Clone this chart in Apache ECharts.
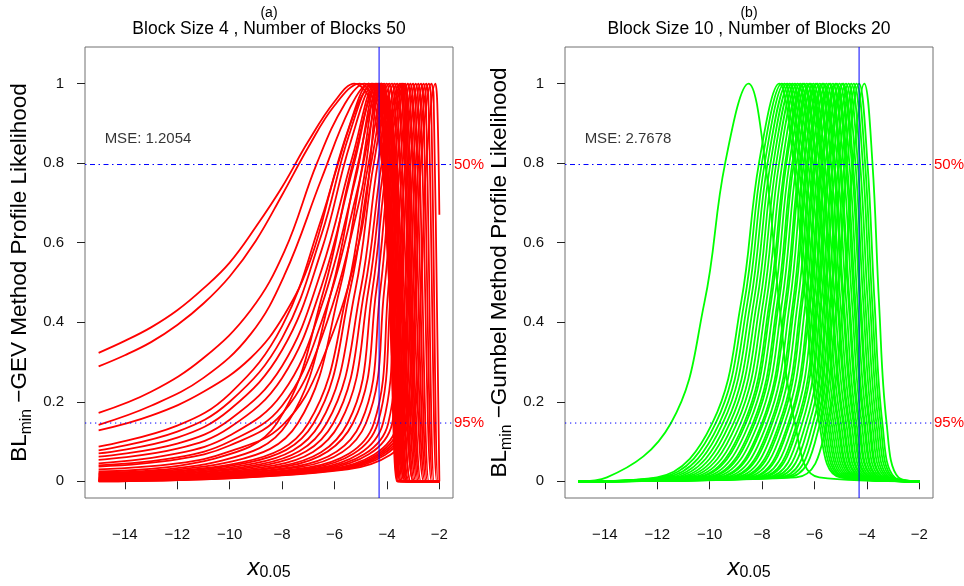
<!DOCTYPE html>
<html>
<head>
<meta charset="utf-8">
<script src="https://cdn.jsdelivr.net/npm/echarts@6/dist/echarts.min.js"></script>
<style>
html,body{margin:0;padding:0;background:#fff;}
#chart{width:964px;height:586px;}
</style>
</head>
<body>
<div id="chart"></div>
<script>
// ---------- data ----------
const xTicks = [-14, -12, -10, -8, -6, -4, -2];
const yTicks = [0, 0.2, 0.4, 0.6, 0.8, 1];
const xLimits = [-15.52, -1.48];
const yLimits = [-0.042, 1.092];
const level50 = 0.7965;
const level95 = 0.1465;
const trueQuantile = -4.3;
const panelTags = ['(a)', '(b)'];
const panelTitles = ['Block Size 4 , Number of Blocks 50', 'Block Size 10 , Number of Blocks 20'];
const mseLabels = ['MSE: 1.2054', 'MSE: 2.7678'];
const yNameMethods = ['GEV', 'Gumbel'];
const mseAnchor = [-15, 0.861];

// panel (a): GEV profile likelihood curves, [x, y] points
const gevCurves = [
  [[-15,.323],[-14,.353],[-13,.387],[-12,.43],[-11,.485],[-10,.55],[-9,.64],[-8,.74],[-7,.855],[-6,.955],[-5.25,1],[-4.5,.93],[-4.0,.6],[-3.62,0],[-3.6,0],[-2,0]],
  [[-15,.289],[-14,.317],[-13,.35],[-12,.393],[-11,.447],[-10,.515],[-9,.605],[-8,.72],[-7,.84],[-6,.945],[-5.05,1],[-4.4,.93],[-3.95,.55],[-3.6,0],[-3.58,0],[-2,0]],
  [[-15,.172],[-13,.225],[-11,.31],[-9.2,.43],[-7.9,.58],[-6.67,.8],[-5.6,.95],[-4.85,1],[-4.3,.92],[-3.85,.45],[-3.58,0],[-3.56,0],[-2,0]],
  [[-15,.142],[-13,.19],[-11,.26],[-9.2,.37],[-7.9,.52],[-6.5,.76],[-5.4,.94],[-4.7,1],[-4.2,.9],[-3.8,.42],[-3.55,0],[-3.53,0],[-2,0]],
  [[-15,.128],[-13,.165],[-11,.225],[-9.2,.31],[-7.9,.42],[-6.9,.56],[-5.95,.78],[-5.1,.95],[-4.55,1],[-4.1,.88],[-3.75,.4],[-3.5,0],[-3.48,0],[-2,0]],
  [[-15,.087],[-12,.14],[-10,.22],[-8,.39],[-6.5,.66],[-5.5,.88],[-4.7,1],[-4.1,.86],[-3.5,0],[-3.48,0],[-2,0]],
  [[-15,.078],[-12,.125],[-10,.2],[-8,.36],[-6.5,.62],[-5.45,.87],[-4.6,1],[-4.05,.85],[-3.45,0],[-3.43,0],[-2,0]],
  [[-15,.070],[-12,.11],[-10,.18],[-8,.33],[-6.5,.58],[-5.4,.85],[-4.5,1],[-4.0,.85],[-3.4,0],[-3.38,0],[-2,0]],
  [[-15,.062],[-12,.095],[-10,.155],[-8,.29],[-6.5,.53],[-5.3,.82],[-4.45,1],[-3.95,.85],[-3.35,0],[-3.33,0],[-2,0]],
  [[-15,.054],[-12,.082],[-10,.135],[-8,.26],[-6.5,.49],[-5.25,.8],[-4.4,1],[-3.9,.85],[-3.3,0],[-3.28,0],[-2,0]],
  [[-15,.045],[-12,.07],[-10,.115],[-8,.22],[-6.5,.44],[-5.2,.76],[-4.35,1],[-3.85,.85],[-3.25,0],[-3.23,0],[-2,0]],
  [[-15,.040],[-12,.06],[-10,.1],[-8,.19],[-6.5,.4],[-5.1,.74],[-4.3,1],[-3.8,.85],[-3.2,0],[-3.18,0],[-2,0]],
  [[-15,.037],[-12,.055],[-10,.09],[-8,.17],[-6.5,.36],[-5.0,.72],[-4.25,1],[-3.75,.85],[-3.1,0],[-3.08,0],[-2,0]],
  [[-15,.030],[-12,.045],[-10,.075],[-8,.14],[-6.5,.3],[-5.0,.62],[-4.2,1],[-3.7,.85],[-3.0,0],[-2.98,0],[-2,0]],
  [[-15,.025],[-10.7,.055],[-8.2,.146],[-6.4,.483],[-5.3,.8],[-4.3,1],[-4.22,.97],[-3.3,0],[-3.28,0],[-2,0]],
  [[-15,.022],[-10.3,.052],[-7.8,.146],[-6.1,.483],[-5.1,.8],[-4.2,1],[-4.12,.97],[-3.25,0],[-3.23,0],[-2,0]],
  [[-15,.02],[-9.9,.05],[-7.4,.146],[-5.8,.483],[-4.9,.8],[-4.1,1],[-4.02,.97],[-3.2,0],[-3.18,0],[-2,0]],
  [[-15,.018],[-9.5,.048],[-7,.146],[-5.5,.483],[-4.7,.8],[-4,1],[-3.92,.97],[-3.15,0],[-3.13,0],[-2,0]],
  [[-15,.017],[-9.3,.047],[-6.8,.146],[-5.4,.483],[-4.6,.8],[-3.9,1],[-3.82,.97],[-3.1,0],[-3.08,0],[-2,0]],
  [[-15,.015],[-9.05,.045],[-6.55,.146],[-5.2,.483],[-4.5,.8],[-3.8,1],[-3.72,.97],[-3,0],[-2.98,0],[-2,0]],
  [[-15,.013],[-8.8,.043],[-6.3,.146],[-5,.483],[-4.35,.8],[-3.7,1],[-3.62,.97],[-2.95,0],[-2.93,0],[-2,0]],
  [[-15,.012],[-8.55,.042],[-6.05,.146],[-4.85,.483],[-4.2,.8],[-3.6,1],[-3.52,.97],[-2.9,0],[-2.88,0],[-2,0]],
  [[-15,.01],[-8.3,.04],[-5.8,.146],[-4.7,.483],[-4.1,.8],[-3.5,1],[-3.42,.97],[-2.85,0],[-2.83,0],[-2,0]],
  [[-15,.009],[-8,.039],[-5.5,.146],[-4.55,.483],[-4,.8],[-3.45,1],[-3.37,.97],[-2.8,0],[-2.78,0],[-2,0]],
  [[-15,.008],[-7.8,.038],[-5.3,.146],[-4.4,.483],[-3.9,.8],[-3.4,1],[-3.32,.97],[-2.75,0],[-2.73,0],[-2,0]],
  [[-15,.007],[-7.5,.037],[-5,.146],[-4.25,.483],[-3.8,.8],[-3.35,1],[-3.27,.97],[-2.7,0],[-2.68,0],[-2,0]],
  [[-15,.006],[-7.3,.036],[-4.8,.146],[-4.1,.483],[-3.7,.8],[-3.3,1],[-3.22,.97],[-2.6,0],[-2.58,0],[-2,0]],
  [[-15,.005],[-7,.035],[-4.5,.146],[-3.95,.483],[-3.6,.8],[-3.2,1],[-3.12,.97],[-2.55,0],[-2.53,0],[-2,0]],
  [[-15,.004],[-6.85,.034],[-4.35,.146],[-3.85,.483],[-3.5,.8],[-3.1,1],[-3.02,.97],[-2.5,0],[-2.48,0],[-2,0]],
  [[-15,.003],[-6.65,.033],[-4.15,.146],[-3.7,.483],[-3.4,.8],[-3,1],[-2.92,.97],[-2.45,0],[-2.43,0],[-2,0]],
  [[-15,.003],[-6.45,.033],[-3.95,.146],[-3.55,.483],[-3.3,.8],[-2.9,1],[-2.82,.97],[-2.4,0],[-2.38,0],[-2,0]],
  [[-15,.002],[-6.3,.032],[-3.8,.146],[-3.45,.483],[-3.2,.8],[-2.8,1],[-2.72,.97],[-2.3,0],[-2.28,0],[-2,0]],
  [[-15,.002],[-6.1,.032],[-3.6,.146],[-3.3,.483],[-3.1,.8],[-2.7,1],[-2.62,.97],[-2.25,0],[-2.23,0],[-2,0]],
  [[-15,.001],[-6,.031],[-3.5,.146],[-3.2,.483],[-3,.8],[-2.6,1],[-2.52,.97],[-2.2,0],[-2.18,0],[-2,0]],
  [[-15,.001],[-5.9,.031],[-3.4,.146],[-3.1,.483],[-2.9,.8],[-2.5,1],[-2.42,.97],[-2.1,0],[-2.08,0],[-2,0]],
  [[-15,.001],[-5.8,.031],[-3.3,.146],[-3,.483],[-2.8,.8],[-2.4,1],[-2.32,.97],[-2.05,0],[-2.03,0],[-2,0]],
  [[-15,0],[-5.7,.03],[-3.2,.146],[-2.9,.483],[-2.7,.8],[-2.3,1],[-2.22,.97],[-2,0]],
  [[-15,0],[-5.5,.03],[-3,.146],[-2.7,.483],[-2.5,.8],[-2.15,1],[-2.08,.95],[-2,.67]]
];

// panel (b): Gumbel profile likelihood curves, x where each curve crosses these levels
const gumbelLevels = [0.01, 0.146, 0.45, 0.8, 1, 0.8, 0.45, 0.146, 0.01];
const gumbelStartEnd = [[-15, 0], [-2, 0]];
const gumbelCrossings = [
  [-13.92,-11.48,-10.2,-9.41,-8.52,-7.88,-7.35,-6.75,-5.82],
  [-12.01,-9.90,-8.80,-8.12,-7.35,-6.80,-6.34,-5.82,-5.02],
  [-11.85,-9.77,-8.68,-8.01,-7.25,-6.71,-6.26,-5.74,-4.95],
  [-11.68,-9.63,-8.56,-7.90,-7.15,-6.61,-6.17,-5.66,-4.88],
  [-11.52,-9.50,-8.44,-7.79,-7.05,-6.52,-6.08,-5.58,-4.82],
  [-11.36,-9.36,-8.32,-7.68,-6.95,-6.43,-6.00,-5.50,-4.75],
  [-11.19,-9.23,-8.20,-7.57,-6.85,-6.34,-5.91,-5.43,-4.68],
  [-11.03,-9.09,-8.08,-7.46,-6.75,-6.24,-5.83,-5.35,-4.61],
  [-10.87,-8.96,-7.96,-7.35,-6.65,-6.15,-5.74,-5.27,-4.54],
  [-10.70,-8.82,-7.84,-7.23,-6.55,-6.06,-5.65,-5.19,-4.47],
  [-10.54,-8.69,-7.72,-7.12,-6.45,-5.97,-5.57,-5.11,-4.41],
  [-10.46,-8.62,-7.66,-7.07,-6.40,-5.92,-5.52,-5.07,-4.37],
  [-10.29,-8.49,-7.54,-6.96,-6.30,-5.83,-5.44,-4.99,-4.30],
  [-10.13,-8.35,-7.42,-6.85,-6.20,-5.74,-5.35,-4.91,-4.23],
  [-10.05,-8.28,-7.36,-6.79,-6.15,-5.69,-5.31,-4.87,-4.20],
  [-9.89,-8.15,-7.24,-6.68,-6.05,-5.60,-5.22,-4.79,-4.13],
  [-9.72,-8.01,-7.12,-6.57,-5.95,-5.50,-5.13,-4.71,-4.06],
  [-9.64,-7.95,-7.06,-6.52,-5.90,-5.46,-5.09,-4.67,-4.03],
  [-9.48,-7.81,-6.94,-6.41,-5.80,-5.37,-5.01,-4.59,-3.96],
  [-9.31,-7.68,-6.82,-6.30,-5.70,-5.27,-4.92,-4.51,-3.89],
  [-9.23,-7.61,-6.76,-6.24,-5.65,-5.23,-4.88,-4.47,-3.86],
  [-9.07,-7.48,-6.64,-6.13,-5.55,-5.13,-4.79,-4.40,-3.79],
  [-8.91,-7.34,-6.52,-6.02,-5.45,-5.04,-4.70,-4.32,-3.72],
  [-8.82,-7.27,-6.46,-5.96,-5.40,-5.00,-4.66,-4.28,-3.69],
  [-8.66,-7.14,-6.34,-5.85,-5.30,-4.90,-4.57,-4.20,-3.62],
  [-8.50,-7.00,-6.22,-5.74,-5.20,-4.81,-4.49,-4.12,-3.55],
  [-8.42,-6.94,-6.16,-5.69,-5.15,-4.76,-4.44,-4.08,-3.52],
  [-8.25,-6.80,-6.04,-5.58,-5.05,-4.67,-4.36,-4.00,-3.45],
  [-8.09,-6.67,-5.93,-5.47,-4.95,-4.58,-4.27,-3.92,-3.38],
  [-8.01,-6.60,-5.87,-5.41,-4.90,-4.53,-4.23,-3.88,-3.35],
  [-7.84,-6.47,-5.75,-5.30,-4.80,-4.44,-4.14,-3.80,-3.28],
  [-7.68,-6.33,-5.63,-5.19,-4.70,-4.35,-4.06,-3.72,-3.21],
  [-7.52,-6.20,-5.51,-5.08,-4.60,-4.26,-3.97,-3.64,-3.14],
  [-7.35,-6.06,-5.39,-4.97,-4.50,-4.16,-3.88,-3.56,-3.07],
  [-7.19,-5.93,-5.27,-4.86,-4.40,-4.07,-3.80,-3.48,-3.01],
  [-7.03,-5.79,-5.15,-4.75,-4.30,-3.98,-3.71,-3.41,-2.94],
  [-6.70,-5.52,-4.91,-4.53,-4.10,-3.79,-3.54,-3.25,-2.80]
];

// ---------- chart ----------
const FONT = '"Liberation Sans", Arial, Helvetica, sans-serif';
const BLUE = '#0000FF';
const grids = [
  {left: 85, top: 47, width: 368, height: 458},
  {left: 565, top: 47, width: 368, height: 458}
];
const centers = grids.map(g => g.left + g.width / 2);

function fmtX(v) { return (v < 0 ? '\u2212' : '') + Math.abs(v); }

const xAxes = [0, 1].map(i => ({
  gridIndex: i, type: 'value', min: xLimits[0], max: xLimits[1],
  splitLine: {show: false},
  axisLine: {show: false},
  axisTick: {show: true, length: 8, customValues: xTicks, lineStyle: {color: '#222', width: 1}},
  axisLabel: {customValues: xTicks, formatter: fmtX, margin: 29, color: '#111', fontSize: 15, fontFamily: FONT},
  name: '{x|x}{s|0.05}', nameLocation: 'middle', nameGap: 58,
  nameTextStyle: {color: '#000', fontFamily: FONT,
    rich: {x: {fontSize: 24, fontStyle: 'italic', fontFamily: FONT, lineHeight: 24, verticalAlign: 'top', color:'#000'},
           s: {fontSize: 16, fontFamily: FONT, lineHeight: 25, verticalAlign: 'bottom', color:'#000'}}}
}));

const yAxes = [0, 1].map(i => ({
  gridIndex: i, type: 'value', min: yLimits[0], max: yLimits[1],
  splitLine: {show: false},
  axisLine: {show: false},
  axisTick: {show: true, length: 8, customValues: yTicks, lineStyle: {color: '#222', width: 1}},
  axisLabel: {customValues: yTicks, formatter: v => String(v), margin: 21, color: '#111', fontSize: 15, fontFamily: FONT},
  name: '{a|BL}{b|min}{a| \u2212' + yNameMethods[i] + ' Method Profile Likelihood}',
  nameLocation: 'middle', nameRotate: 90, nameGap: 50,
  nameTextStyle: {color: '#000', fontFamily: FONT,
    rich: {a: {fontSize: 22.5, fontFamily: FONT, lineHeight: 26, verticalAlign: 'top', color:'#000'},
           b: {fontSize: 15.75, fontFamily: FONT, lineHeight: 27, verticalAlign: 'bottom', color:'#000'}}}
}));

const series = [];
function addCurve(pts, i, color) {
  series.push({
    type: 'line', xAxisIndex: i, yAxisIndex: i, data: pts,
    smooth: 0.4, symbol: 'none', silent: true, z: 2,
    lineStyle: {color: color, width: 1.8}
  });
}
gevCurves.forEach(c => addCurve(c, 0, '#FF0000'));
gumbelCrossings.forEach(row => {
  const pts = [gumbelStartEnd[0]];
  row.forEach((x, k) => pts.push([x, gumbelLevels[k]]));
  pts.push(gumbelStartEnd[1]);
  addCurve(pts, 1, '#00FF00');
});

function refLine(i, pts, type, tag) {
  const s = {
    type: 'line', xAxisIndex: i, yAxisIndex: i, data: pts, z: 6, silent: true,
    symbol: 'none', smooth: false, clip: false,
    itemStyle: {color: BLUE},
    lineStyle: {color: BLUE, width: 1, type: type}
  };
  if (tag) {
    s.endLabel = {show: true, formatter: tag, distance: 1, color: '#FF0000', fontSize: 15, fontFamily: FONT};
  }
  series.push(s);
}

[0, 1].forEach(i => {
  refLine(i, [[xLimits[0], level50], [xLimits[1], level50]], [1.5, 3.5, 5, 3.5], '50%');
  refLine(i, [[xLimits[0], level95], [xLimits[1], level95]], [1.3, 3.7], '95%');
  refLine(i, [[trueQuantile, yLimits[0]], [trueQuantile, yLimits[1]]], 'solid', null);
  series.push({
    type: 'scatter', xAxisIndex: i, yAxisIndex: i, z: 10, silent: true,
    data: [mseAnchor], symbolSize: 0, itemStyle: {color: 'transparent'},
    label: {show: true, position: 'right', distance: 6, formatter: mseLabels[i],
            color: '#000', fontSize: 15, fontFamily: FONT}
  });
});

const titles = [];
[0, 1].forEach(i => {
  titles.push({text: panelTags[i], left: centers[i], top: 6, textAlign: 'center', padding: 0,
               textStyle: {fontSize: 14, fontWeight: 'normal', color: '#000', fontFamily: FONT, lineHeight: 15}});
  titles.push({text: panelTitles[i], left: centers[i], top: 20, textAlign: 'center', padding: 0,
               textStyle: {fontSize: 17.5, fontWeight: 'normal', color: '#000', fontFamily: FONT, lineHeight: 18}});
});

const chart = echarts.init(document.getElementById('chart'), null, {renderer: 'canvas'});
chart.setOption({
  animation: false,
  backgroundColor: '#fff',
  title: titles,
  grid: grids.map(g => Object.assign({show: true, borderColor: '#707070', borderWidth: 1, containLabel: false}, g)),
  xAxis: xAxes,
  yAxis: yAxes,
  series: series
});
</script>
</body>
</html>
